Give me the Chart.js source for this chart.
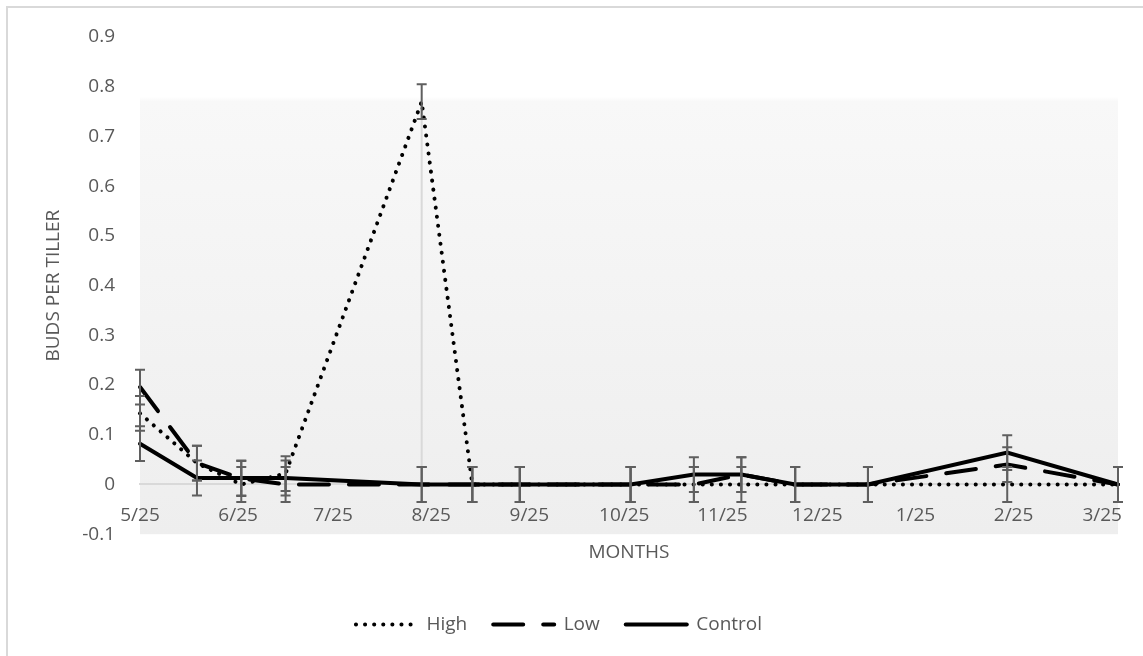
<!DOCTYPE html>
<html>
<head>
<meta charset="utf-8">
<title>Buds per tiller</title>
<script src="https://cdn.jsdelivr.net/npm/chart.js"></script>
<style>
    html, body { margin: 0; padding: 0; background: #ffffff; }
    #wrap { position: relative; width: 1143px; height: 656px; }
</style>
</head>
<body>
<div id="wrap"><canvas id="budsChart"></canvas></div>
<script>
// Sampling dates and mean buds per tiller for each treatment
const sampleDates = ['2014-05-25', '2014-06-12', '2014-06-26', '2014-07-10', '2014-08-22', '2014-09-07', '2014-09-22',
    '2014-10-27', '2014-11-16', '2014-12-01', '2014-12-18', '2015-01-10', '2015-02-23', '2015-03-30'];
const highValues = [0.143, 0.043, 0, 0.022, 0.77, 0, 0, 0, 0, 0, 0, 0, 0, 0];
const lowValues = [0.196, 0.043, 0.012, 0, 0, 0, 0, 0, 0, 0.02, 0, 0, 0.04, 0];
const controlValues = [0.082, 0.013, 0.013, 0.013, 0, 0, 0, 0, 0.02, 0.02, 0, 0, 0.064, 0];

// Error bar half-widths
const highErr = [0.035, 0.035, 0.035, 0.035, 0.035, 0.035, 0.035, 0.035, 0.035, 0.035, 0.035, 0.035, 0.035, 0.035];
const lowErr = [0.035, 0.035, 0.035, 0.035, 0.035, 0.035, 0.035, 0.035, 0.035, 0.035, 0.035, 0.035, 0.035, 0.035];
const controlErr = [0.035, 0.035, 0.035, 0.035, 0.035, 0.035, 0.035, 0.035, 0.035, 0.035, 0.035, 0.035, 0.035, 0.035];

// Month ticks on the date axis
const tickDates = ['2014-05-25', '2014-06-25', '2014-07-25', '2014-08-25', '2014-09-25', '2014-10-25',
    '2014-11-25', '2014-12-25', '2015-01-25', '2015-02-25', '2015-03-25'];

const TEXT_COLOR = '#595959';
const FONT = { family: "'Open Sans', 'Noto Sans', sans-serif", size: 19 };

const DAY_MS = 86400000;
const startMs = Date.parse(sampleDates[0]);

function toDay(iso) {
    return Math.round((Date.parse(iso) - startMs) / DAY_MS);
}

function shortDate(iso) {
    const parts = iso.split('-');
    return (+parts[1]) + '/' + (+parts[2]);
}

function toPoints(values) {
    return sampleDates.map((d, i) => ({ x: toDay(d), y: values[i] }));
}

const tickDays = tickDates.map(toDay);
const tickLabels = tickDates.map(shortDate);
const errorSets = [highErr, lowErr, controlErr];

// Frame, plot shading, drop line and error bars
const chartDecor = {
    id: 'chartDecor',
    beforeDraw(chart) {
        const { ctx, chartArea: a, width, height } = chart;
        ctx.save();
        ctx.strokeStyle = '#d9d9d9';
        ctx.lineWidth = 2;
        ctx.strokeRect(7, 7, width + 20, height + 20);

        const grad = ctx.createLinearGradient(0, a.top, 0, a.bottom);
        grad.addColorStop(0, '#ffffff');
        grad.addColorStop(0.12, '#ffffff');
        grad.addColorStop(0.13, '#f8f8f8');
        grad.addColorStop(1, '#eeeeee');
        ctx.fillStyle = grad;
        ctx.fillRect(a.left, a.top, a.right - a.left, a.bottom - a.top);
        ctx.restore();
    },
    beforeDatasetsDraw(chart) {
        const { ctx } = chart;
        const yScale = chart.scales.y;
        const peak = highValues.indexOf(Math.max(...highValues));
        const pt = chart.getDatasetMeta(0).data[peak];
        ctx.save();
        ctx.strokeStyle = '#d9d9d9';
        ctx.lineWidth = 2;
        ctx.beginPath();
        ctx.moveTo(pt.x, pt.y);
        ctx.lineTo(pt.x, yScale.getPixelForValue(0));
        ctx.stroke();
        ctx.restore();
    },
    afterDatasetsDraw(chart) {
        const { ctx } = chart;
        const yScale = chart.scales.y;
        ctx.save();
        ctx.strokeStyle = '#5f5f5f';
        ctx.lineWidth = 2;
        chart.data.datasets.forEach((ds, i) => {
            const meta = chart.getDatasetMeta(i);
            const errs = errorSets[i];
            meta.data.forEach((pt, j) => {
                const v = ds.data[j].y;
                const yTop = yScale.getPixelForValue(v + errs[j]);
                const yBot = yScale.getPixelForValue(v - errs[j]);
                ctx.beginPath();
                ctx.moveTo(pt.x, yTop);
                ctx.lineTo(pt.x, yBot);
                ctx.moveTo(pt.x - 5, yTop);
                ctx.lineTo(pt.x + 5, yTop);
                ctx.moveTo(pt.x - 5, yBot);
                ctx.lineTo(pt.x + 5, yBot);
                ctx.stroke();
            });
        });
        ctx.restore();
    }
};

const lineBase = {
    borderColor: '#000000',
    backgroundColor: '#000000',
    borderWidth: 4,
    pointRadius: 0,
    pointHoverRadius: 0,
    tension: 0,
    fill: false,
    clip: false,
    xAxisID: 'x',
    yAxisID: 'y'
};

const ctx = document.getElementById('budsChart').getContext('2d');
const budsChart = new Chart(ctx, {
    type: 'line',
    data: {
        datasets: [
            Object.assign({}, lineBase, { label: 'High', data: toPoints(highValues), borderDash: [0.1, 9], borderCapStyle: 'round' }),
            Object.assign({}, lineBase, { label: 'Low', data: toPoints(lowValues), borderDash: [30, 20], borderCapStyle: 'round' }),
            Object.assign({}, lineBase, { label: 'Control', data: toPoints(controlValues), borderCapStyle: 'round' })
        ]
    },
    options: {
        responsive: true,
        maintainAspectRatio: false,
        animation: false,
        layout: { padding: { top: 37, right: 25, bottom: 12, left: 0 } },
        scales: {
            x: {
                type: 'linear',
                position: { y: 0 },
                min: 0,
                max: toDay(sampleDates[sampleDates.length - 1]),
                afterBuildTicks: axis => { axis.ticks = tickDays.map(v => ({ value: v })); },
                grid: { display: false, drawTicks: false },
                border: { display: true, color: '#d9d9d9', width: 2 },
                ticks: {
                    autoSkip: false,
                    maxRotation: 0,
                    padding: 20,
                    color: TEXT_COLOR,
                    font: FONT,
                    callback: (value, index) => tickLabels[index]
                }
            },
            xt: {
                type: 'linear',
                position: 'bottom',
                display: true,
                grid: { display: false, drawTicks: false },
                border: { display: false },
                ticks: { display: false },
                title: {
                    display: true,
                    text: 'MONTHS',
                    color: TEXT_COLOR,
                    font: FONT,
                    padding: { top: 7, bottom: 25 }
                }
            },
            y: {
                min: -0.1,
                max: 0.9,
                afterFit: scale => { scale.width = 140; },
                grid: { display: false, drawTicks: false },
                border: { display: false },
                ticks: {
                    stepSize: 0.1,
                    padding: 25,
                    color: TEXT_COLOR,
                    font: FONT,
                    callback: value => String(+value.toFixed(1))
                },
                title: {
                    display: true,
                    text: 'BUDS PER TILLER',
                    color: TEXT_COLOR,
                    font: FONT,
                    padding: { top: 42, bottom: 0 }
                }
            }
        },
        plugins: {
            tooltip: { enabled: false },
            legend: {
                position: 'bottom',
                labels: {
                    usePointStyle: true,
                    pointStyleWidth: 61,
                    padding: 26,
                    color: TEXT_COLOR,
                    font: FONT,
                    generateLabels: chart => chart.data.datasets.map((ds, i) => ({
                        text: ds.label,
                        fillStyle: ds.borderColor,
                        strokeStyle: ds.borderColor,
                        lineWidth: ds.borderWidth,
                        lineDash: ds.borderDash || [],
                        lineCap: ds.borderCapStyle,
                        pointStyle: 'line',
                        fontColor: TEXT_COLOR,
                        hidden: false,
                        datasetIndex: i
                    }))
                }
            }
        }
    },
    plugins: [chartDecor]
});
</script>
</body>
</html>
